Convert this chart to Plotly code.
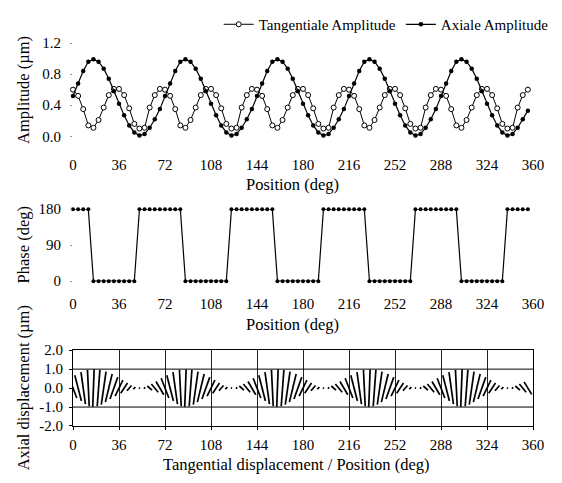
import plotly.graph_objects as go

# ---------------- data ----------------
positions = [0, 4, 8, 12, 16, 20, 24, 28, 32, 36, 40, 44, 48, 52, 56, 60, 64, 68,
             72, 76, 80, 84, 88, 92, 96, 100, 104, 108, 112, 116, 120, 124, 128, 132, 136, 140,
             144, 148, 152, 156, 160, 164, 168, 172, 176, 180, 184, 188, 192, 196, 200, 204, 208, 212,
             216, 220, 224, 228, 232, 236, 240, 244, 248, 252, 256, 260, 264, 268, 272, 276, 280, 284,
             288, 292, 296, 300, 304, 308, 312, 316, 320, 324, 328, 332, 336, 340, 344, 348, 352, 356]

tangential = [0.60, 0.52, 0.35, 0.14, 0.11, 0.21, 0.37, 0.53, 0.61, 0.61, 0.53, 0.36, 0.16, 0.10, 0.11, 0.37, 0.53, 0.61,
              0.60, 0.52, 0.35, 0.14, 0.11, 0.21, 0.37, 0.53, 0.61, 0.61, 0.53, 0.36, 0.16, 0.10, 0.11, 0.37, 0.53, 0.61,
              0.60, 0.52, 0.35, 0.14, 0.11, 0.21, 0.37, 0.53, 0.61, 0.61, 0.53, 0.36, 0.16, 0.10, 0.11, 0.37, 0.53, 0.61,
              0.60, 0.52, 0.35, 0.14, 0.11, 0.21, 0.37, 0.53, 0.61, 0.61, 0.53, 0.36, 0.16, 0.10, 0.11, 0.37, 0.53, 0.61,
              0.60, 0.52, 0.35, 0.14, 0.11, 0.21, 0.37, 0.53, 0.61, 0.61, 0.53, 0.36, 0.16, 0.10, 0.11, 0.37, 0.53, 0.60]

axial = [0.52, 0.68, 0.84, 0.96, 0.99, 0.96, 0.87, 0.74, 0.58, 0.42, 0.27, 0.14, 0.05, 0.01, 0.03, 0.11, 0.22, 0.35,
         0.52, 0.68, 0.84, 0.96, 0.99, 0.96, 0.87, 0.74, 0.58, 0.42, 0.27, 0.14, 0.05, 0.01, 0.03, 0.11, 0.22, 0.35,
         0.52, 0.68, 0.84, 0.96, 0.99, 0.96, 0.87, 0.74, 0.58, 0.42, 0.27, 0.14, 0.05, 0.01, 0.03, 0.11, 0.22, 0.35,
         0.52, 0.68, 0.84, 0.96, 0.99, 0.96, 0.87, 0.74, 0.58, 0.42, 0.27, 0.14, 0.05, 0.01, 0.03, 0.11, 0.22, 0.35,
         0.52, 0.68, 0.84, 0.96, 0.99, 0.96, 0.87, 0.74, 0.58, 0.42, 0.27, 0.14, 0.05, 0.01, 0.03, 0.11, 0.22, 0.33]

phase = [180, 180, 180, 180, 0, 0, 0, 0, 0, 0, 0, 0, 0, 180, 180, 180, 180, 180,
         180, 180, 180, 180, 0, 0, 0, 0, 0, 0, 0, 0, 0, 180, 180, 180, 180, 180,
         180, 180, 180, 180, 0, 0, 0, 0, 0, 0, 0, 0, 0, 180, 180, 180, 180, 180,
         180, 180, 180, 180, 0, 0, 0, 0, 0, 0, 0, 0, 0, 180, 180, 180, 180, 180,
         180, 180, 180, 180, 0, 0, 0, 0, 0, 0, 0, 0, 0, 180, 180, 180, 180, 180]

x_ticks = [0, 36, 72, 108, 144, 180, 216, 252, 288, 324, 360]
x_ticktext = ["0", "36", "72", "108", "144", "180", "216", "252", "288", "324", "360"]
amp_ticks = [0.0, 0.4, 0.8, 1.2]
amp_ticktext = ["0.0", "0.4", "0.8", "1.2"]
phase_ticks = [0, 90, 180]
phase_ticktext = ["0", "90", "180"]
disp_ticks = [-2, -1, 0, 1, 2]
disp_ticktext = ["-2.0", "-1.0", "0.0", "1.0", "2.0"]
disp_grid = [-1, 1]
tangential_scale = 5.0  # degrees of position per µm of tangential displacement

# ---------------- styling ----------------
FONT = "Liberation Serif"
TICK = dict(family=FONT, size=15, color="black")
TITLE = dict(family=FONT, size=16.5, color="black")

fig = go.Figure()

fig.add_trace(go.Scatter(
    x=positions, y=tangential, name="Tangentiale Amplitude", mode="lines+markers",
    line=dict(color="black", width=1),
    marker=dict(symbol="circle", size=5, color="white", line=dict(color="black", width=1)),
    xaxis="x", yaxis="y", cliponaxis=False))
fig.add_trace(go.Scatter(
    x=positions, y=axial, name="Axiale Amplitude", mode="lines+markers",
    line=dict(color="black", width=1.2),
    marker=dict(symbol="circle", size=4.5, color="black"),
    xaxis="x", yaxis="y", cliponaxis=False))

fig.add_trace(go.Scatter(
    x=positions, y=phase, mode="lines+markers", showlegend=False,
    line=dict(color="black", width=1.2),
    marker=dict(symbol="circle", size=4, color="black"),
    xaxis="x2", yaxis="y2", cliponaxis=False))

# displacement vectors
seg_x, seg_y = [], []
for p, t, a, ph in zip(positions, tangential, axial, phase):
    s = 1 if ph == 0 else -1
    seg_x += [p - s * tangential_scale * t, p + s * tangential_scale * t, None]
    seg_y += [-a, a, None]
fig.add_trace(go.Scatter(
    x=seg_x, y=seg_y, mode="lines", showlegend=False,
    line=dict(color="black", width=1.7),
    xaxis="x3", yaxis="y3"))

# ---------------- layout ----------------
W, H = 562, 483
ml, mr, mt, mb = 73, 8, 32, 57
ph_ = H - mt - mb
pw_ = W - ml - mr


def py(px):
    return (H - mb - px) / ph_


def pxx(px):
    return (px - ml) / pw_


common_x = dict(range=[0, 360], tickvals=x_ticks, ticktext=x_ticktext, tickfont=TICK,
                showgrid=False, zeroline=False, showline=False, ticks="")

fig.update_layout(
    width=W, height=H, margin=dict(l=ml, r=mr, t=mt, b=mb),
    paper_bgcolor="white", plot_bgcolor="white",
    font=dict(family=FONT, color="black"),
    xaxis=dict(**common_x, anchor="y", domain=[0, 1], ticklabelstandoff=18),
    yaxis=dict(domain=[py(128), 1.0], range=[0, 1.2], tickvals=amp_ticks, ticktext=amp_ticktext,
               tickfont=TICK, showgrid=False, zeroline=False, showline=False,
               ticks="outside", ticklen=2, tickcolor="#999", ticklabelstandoff=6),
    xaxis2=dict(**common_x, anchor="y2", domain=[0, 1], ticklabelstandoff=12),
    yaxis2=dict(domain=[py(277), py(203)], range=[0, 180], tickvals=phase_ticks, ticktext=phase_ticktext,
                tickfont=TICK, showgrid=False, zeroline=False, showline=False,
                ticks="outside", ticklen=2, tickcolor="#999", ticklabelstandoff=6),
    xaxis3=dict(range=[0, 360], tickvals=x_ticks, ticktext=x_ticktext, tickfont=TICK,
                anchor="y3", domain=[0, 1], showgrid=True, gridcolor="#222", gridwidth=1,
                zeroline=False, showline=True, linecolor="black", linewidth=1, mirror=True,
                ticks="outside", ticklen=3, tickcolor="black", ticklabelstandoff=2),
    yaxis3=dict(domain=[0, py(348)], range=[-2, 2], tickvals=disp_ticks, ticktext=disp_ticktext,
                tickfont=TICK, showgrid=False, zeroline=False, showline=True, linecolor="black",
                linewidth=1, mirror=True, ticks="outside", ticklen=3, tickcolor="black",
                ticklabelstandoff=3),
    legend=dict(orientation="h", x=1.045, xanchor="right", y=py(13), yanchor="middle",
                font=dict(family=FONT, size=15, color="black"), itemwidth=30,
                bgcolor="rgba(0,0,0,0)", tracegroupgap=0),
)

for g in disp_grid:
    fig.add_shape(type="line", xref="x3 domain", yref="y3", x0=0, x1=1, y0=g, y1=g,
                  line=dict(color="black", width=1))

annos = [
    dict(text="Position (deg)", x=pxx(303), y=py(178)),
    dict(text="Position (deg)", x=pxx(303), y=py(322)),
    dict(text="Tangential displacement / Position (deg)", x=pxx(306), y=py(466)),
    dict(text="Amplitude (µm)", x=pxx(21), y=py(80), textangle=-90),
    dict(text="Phase (deg)", x=pxx(21), y=py(240), textangle=-90),
    dict(text="Axial displacement (µm)", x=pxx(21), y=py(387), textangle=-90),
]
for a in annos:
    fig.add_annotation(xref="paper", yref="paper", showarrow=False, xanchor="center",
                       yanchor="middle", font=TITLE, **a)

fig.write_html("out.html")
